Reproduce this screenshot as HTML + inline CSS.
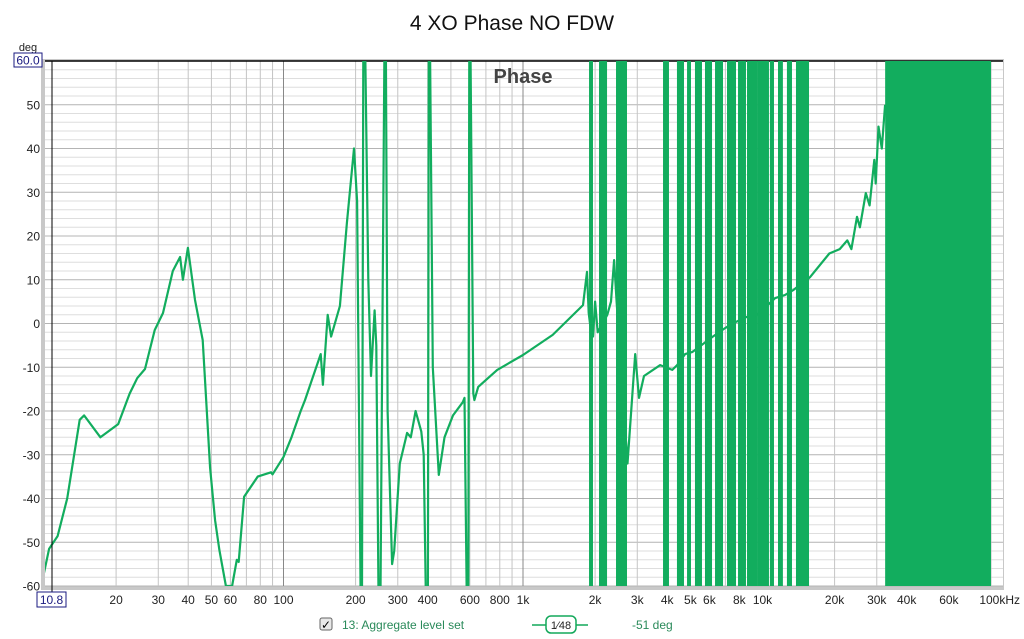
<!DOCTYPE html>
<html style="margin:0;padding:0;width:1024px;height:639px;overflow:hidden"><head><meta charset="utf-8"><style>
body{margin:0;padding:0;background:#fff;width:1024px;height:639px;overflow:hidden;position:relative;font-family:"Liberation Sans",sans-serif}
svg{position:absolute;left:0;top:0;display:block;overflow:hidden}
</style></head><body>
<svg width="1024" height="639" viewBox="0 0 1024 639">
<defs><clipPath id="clip"><rect x="45" y="61" width="957" height="525"/></clipPath></defs>
<text x="512" y="30" text-anchor="middle" font-size="21" fill="#111">4 XO Phase NO FDW</text>
<rect x="41" y="59" width="963" height="531" fill="#c8c8c8"/>
<rect x="45" y="61" width="958" height="525" fill="#fff"/>
<g id="grid"></g>
<line x1="45" y1="61" x2="1003" y2="61" stroke="#000" stroke-width="1.5"/>
<text x="523" y="83" text-anchor="middle" font-size="20" font-weight="bold" fill="#444">Phase</text>
<g id="bands" clip-path="url(#clip)"></g>
<g id="series" clip-path="url(#clip)"></g>
<line x1="52" y1="61" x2="52" y2="592" stroke="#000" stroke-width="1"/>
<g id="yt"></g><g id="xt"></g>
<text x="28" y="51" text-anchor="middle" font-size="11" fill="#222">deg</text>
<rect x="14" y="53" width="28" height="14" fill="#fff" stroke="#1a1a80"/>
<text x="28" y="64.5" text-anchor="middle" font-size="12" fill="#1a1a80">60.0</text>
<rect x="37" y="592" width="29" height="15" fill="#fff" stroke="#1a1a80"/>
<text x="51.5" y="604" text-anchor="middle" font-size="12" fill="#1a1a80">10.8</text>
<g>
<rect x="320" y="618" width="12" height="12" rx="2" fill="#e8e8e8" stroke="#666"/>
<text x="326" y="629" text-anchor="middle" font-size="12" fill="#000">✓</text>
<text x="342" y="629" font-size="12" fill="#2a8a5a">13: Aggregate level set</text>
<line x1="532" y1="625" x2="588" y2="625" stroke="#12a85a" stroke-width="1.5"/>
<rect x="546" y="616" width="30" height="17" rx="5" fill="#fff" stroke="#12a85a" stroke-width="1.5"/>
<text x="561" y="629" text-anchor="middle" font-size="11" fill="#222">1⁄48</text>
<text x="632" y="629" font-size="12" fill="#2a8a5a">-51 deg</text>
</g>
</svg>
<script>
const freqs=[10,10.5,11.4,12.5,14.1,14.7,17.2,20.4,22.8,24.5,26.4,29,31.4,34.5,37,38,39.9,42.7,46,49.4,51.8,54,57.5,61,63.8,65,68.5,78,88.7,90,100,108,118,123,143,146,153,158,172,184,197,203,212,216,226,232,240,244,252,266,272,284,290,306,328,340,356,376,385,400,405,420,445,470,510,560,570,590,598,620,627,650,780,1000,1330,1780,1850,1880,1905,1960,2000,2050,2250,2330,2400,2460,2730,2940,3050,3200,3740,4200,4400,4750,5100,5700,6200,7000,7500,8600,9000,9500,11300,12400,13500,15800,19000,21000,22600,23500,24800,25500,27000,28000,29300,29700,30500,31500,32500];
const phases=[-57,-51.5,-48.6,-40,-22,-21,-26,-23,-16,-12.5,-10.4,-1.5,2.4,12,15.2,10,17.3,5.4,-3.8,-33,-45,-51.8,-60,-60,-54,-54.5,-39.6,-35,-34,-34.5,-30.5,-26,-20,-17.5,-7,-14,2,-3,4,23,40,28,-90,90,10,-12,3,-5,-90,90,-20,-55,-52,-32,-25,-26,-20,-24.7,-30,-90,90,-10,-34.6,-26,-21,-18,-17,-90,90,-16,-17.5,-14.5,-10.6,-7.2,-2.6,4.2,11.8,2.4,0,-3,5,-2,2,5,14.5,5,-32,-7,-17,-12,-9.5,-10.6,-9.5,-7,-6.5,-4.5,-3,-1,0,1.5,1.5,2,5.8,6.5,7.7,10.6,16,17,19,17,24.4,22,29.8,27,37.4,32,45,40,50];
const bandStart=[1905,2097,2469,3880,4436,4888,5275,5808,6397,7178,7980,8700,9660,10840,11720,12770,13930,14620,32830];
const bandEnd=[1941,2222,2692,4030,4656,4980,5535,6096,6776,7677,8450,9480,10540,11060,12050,13150,14350,15490,89100];
const yTicks=[60,50,40,30,20,10,0,-10,-20,-30,-40,-50,-60];
const xTickVals=[20,30,40,50,60,80,100,200,300,400,600,800,1000,2000,3000,4000,5000,6000,8000,10000,20000,30000,40000,60000,100000];
const xTickLabels=["20","30","40","50","60","80","100","200","300","400","600","800","1k","2k","3k","4k","5k","6k","8k","10k","20k","30k","40k","60k","100kHz"];
const NS="http://www.w3.org/2000/svg";
const X=f=>44+(Math.log10(f)-1)*239.5;
const Y=v=>323.5-v*4.375;
function el(t,a,p){const e=document.createElementNS(NS,t);for(const k in a)e.setAttribute(k,a[k]);p.appendChild(e);return e;}
const grid=document.getElementById('grid');
for(let v=-60;v<=60;v+=2){const l=el('line',{x1:45,x2:1003,y1:Y(v),y2:Y(v),stroke:v%10===0?'#b4b4b4':'#dedede','stroke-width':1},grid);

}
for(let d=10;d<100000;d*=10){for(let m=1;m<10;m++){const f=d*m;if(f<=10)continue;const major=m===1;
const l=el('line',{x1:X(f),x2:X(f),y1:61,y2:586,stroke:major?'#888':'#c4c4c4','stroke-width':1},grid);

}}
const yt=document.getElementById('yt');
yTicks.forEach(v=>{if(v===60)return;const t=el('text',{x:40,y:Y(v)+4.5,'text-anchor':'end','font-size':12,fill:'#222'},yt);t.textContent=String(v);

});
const xt=document.getElementById('xt');
xTickVals.forEach((f,i)=>{const last=i===xTickVals.length-1;const t=el('text',{x:last?1020:X(f),y:604,'text-anchor':last?'end':'middle','font-size':12,fill:'#222'},xt);t.textContent=xTickLabels[i];

});
const bands=document.getElementById('bands');
bandStart.forEach((s,i)=>{const r=el('rect',{x:X(s)-1,y:61,width:X(bandEnd[i])-X(s)+2,height:525,fill:'#12ad5e'},bands);

});
const pts=freqs.map((f,i)=>X(f).toFixed(1)+','+Y(phases[i]).toFixed(1)).join(' ');
const pl=el('polyline',{points:pts,fill:'none',stroke:'#12ad5e','stroke-width':2.2,'stroke-linejoin':'round'},document.getElementById('series'));


</script>
</body></html>
